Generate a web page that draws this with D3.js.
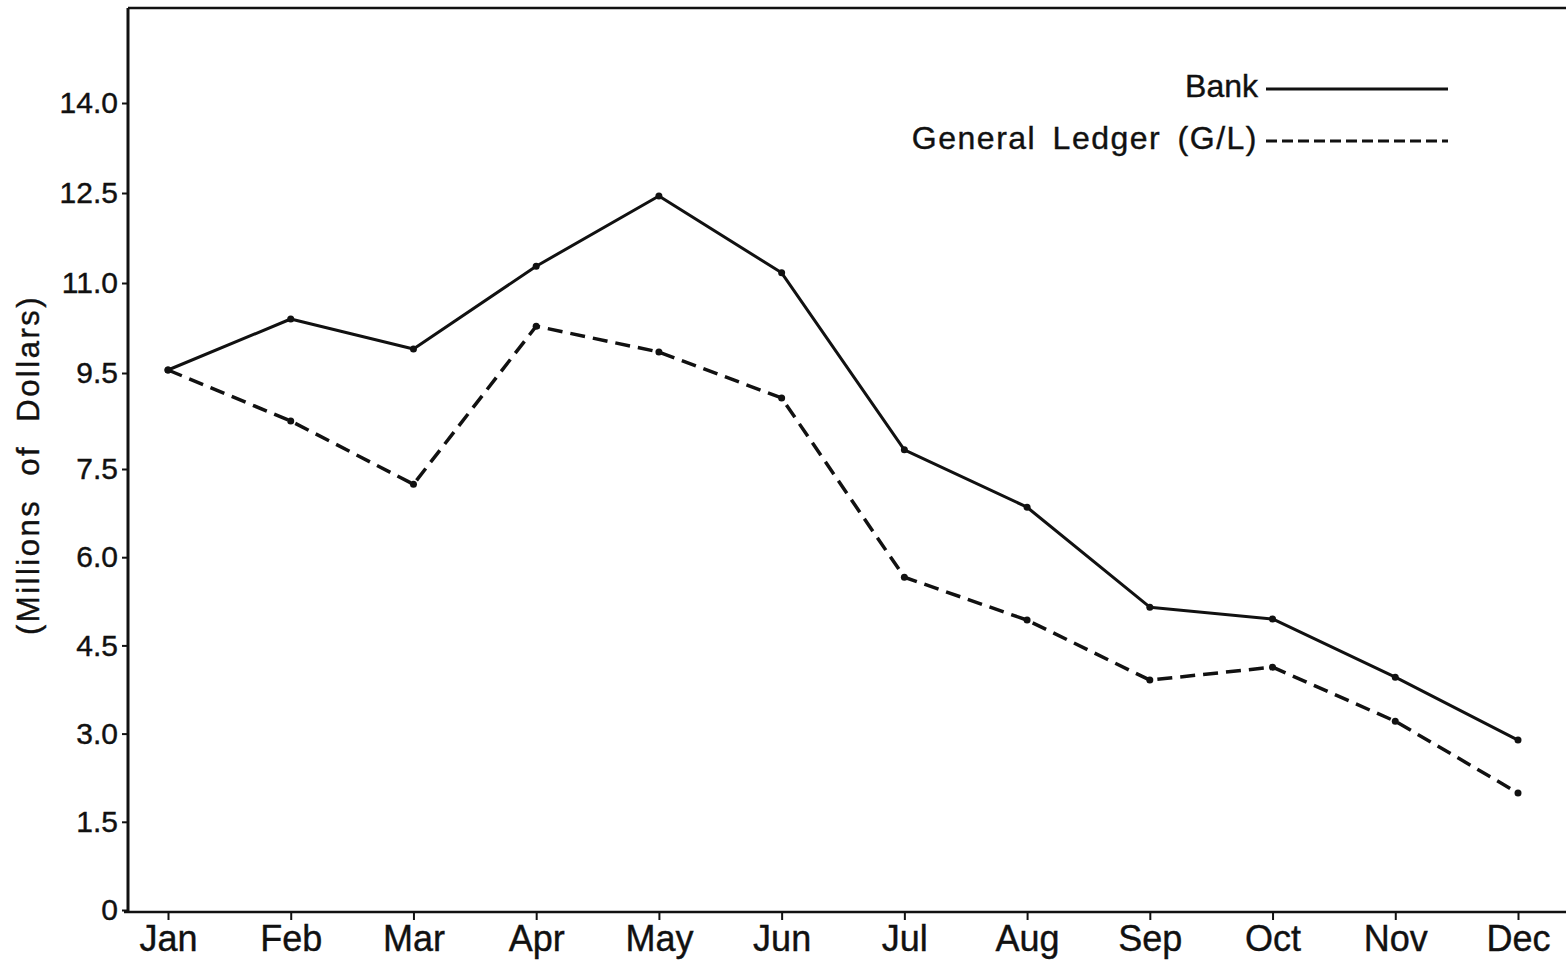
<!DOCTYPE html>
<html>
<head>
<meta charset="utf-8">
<script src="https://cdn.jsdelivr.net/npm/d3@7"></script>
<style>
  body { margin: 0; background: #fff; }
  text { font-family: 'Liberation Sans', Arial, Helvetica, sans-serif; fill: #111; stroke: #111; stroke-width: 0.4px; }
</style>
</head>
<body>
<div id="chart"></div>
<script>
// data
const months = ['Jan', 'Feb', 'Mar', 'Apr', 'May', 'Jun', 'Jul', 'Aug', 'Sep', 'Oct', 'Nov', 'Dec'];
const bankValues = [9.55, 10.4, 9.9, 11.28, 12.45, 11.17, 7.9, 6.85, 5.15, 4.95, 3.96, 2.89];
const ledgerValues = [9.55, 8.5, 7.24, 10.28, 9.85, 8.98, 5.66, 4.93, 3.91, 4.13, 3.21, 1.99];
const yTickValues = [0, 1.5, 3.0, 4.5, 6.0, 7.5, 9.5, 11.0, 12.5, 14.0];
const seriesNames = ['Bank', 'General Ledger (G/L)'];

let width = 1566;
let height = 960;
let axisX = 128;
let axisY = 912;
let frameTop = 8;

let svg = d3
  .select('#chart')
  .append('svg')
  .attr('width', width)
  .attr('height', height);

// Scales (the printed axis steps 7.5 -> 9.5 over one tick gap, so piecewise)
let xPositionScale = d3.scalePoint().domain(months).range([168, 1518]);
let yPositionScale = d3
  .scaleLinear()
  .domain([0, 7.5, 9.5, 14.0])
  .range([910, 469, 373, 103]);

let line = d3
  .line()
  .x((d) => xPositionScale(d.month))
  .y((d) => yPositionScale(d.value));

let bankData = months.map((m, i) => ({ month: m, value: bankValues[i] }));
let ledgerData = months.map((m, i) => ({ month: m, value: ledgerValues[i] }));

// Frame lines
svg
  .append('line')
  .attr('x1', axisX)
  .attr('x2', width)
  .attr('y1', frameTop)
  .attr('y2', frameTop)
  .attr('stroke', '#111')
  .attr('stroke-width', 2.5);

svg
  .append('line')
  .attr('x1', axisX)
  .attr('x2', axisX)
  .attr('y1', frameTop)
  .attr('y2', axisY)
  .attr('stroke', '#111')
  .attr('stroke-width', 3);

svg
  .append('line')
  .attr('x1', axisX - 4)
  .attr('x2', width)
  .attr('y1', axisY)
  .attr('y2', axisY)
  .attr('stroke', '#111')
  .attr('stroke-width', 2.5);

// Axes
let yAxisGenerator = d3
  .axisLeft(yPositionScale)
  .tickValues(yTickValues)
  .tickFormat((d) => (d === 0 ? '0' : d.toFixed(1)))
  .tickSize(6)
  .tickSizeOuter(0)
  .tickPadding(4);

let yAxis = svg
  .append('g')
  .attr('class', 'axis y-axis')
  .attr('transform', `translate(${axisX}, 0)`)
  .call(yAxisGenerator);

yAxis.select('.domain').remove();
yAxis.selectAll('line').attr('stroke', '#111').attr('stroke-width', 2);
yAxis
  .selectAll('text')
  .style('font-size', '30px')
  .attr('fill', '#111');

let xAxisGenerator = d3
  .axisBottom(xPositionScale)
  .tickSize(8)
  .tickSizeOuter(0)
  .tickPadding(5);

let xAxis = svg
  .append('g')
  .attr('class', 'axis x-axis')
  .attr('transform', `translate(0, ${axisY})`)
  .call(xAxisGenerator);

xAxis.select('.domain').remove();
xAxis.selectAll('line').attr('stroke', '#111').attr('stroke-width', 2);
xAxis
  .selectAll('text')
  .style('font-size', '36px')
  .attr('fill', '#111');

// Y axis title
svg
  .append('text')
  .attr('transform', 'rotate(-90)')
  .attr('x', -465)
  .attr('y', 28)
  .attr('dy', '0.35em')
  .style('text-anchor', 'middle')
  .style('font-size', '31px')
  .style('letter-spacing', '2.5px')
  .style('word-spacing', '12px')
  .text('(Millions of Dollars)');

// Lines
svg
  .append('path')
  .datum(bankData)
  .attr('fill', 'none')
  .attr('stroke', '#111')
  .attr('stroke-width', 3)
  .attr('stroke-linejoin', 'round')
  .attr('d', line);

svg
  .append('path')
  .datum(ledgerData)
  .attr('fill', 'none')
  .attr('stroke', '#111')
  .attr('stroke-width', 3.5)
  .attr('stroke-dasharray', '15,8')
  .attr('d', line);

// small dots at each point
svg
  .selectAll('.dot')
  .data(bankData.concat(ledgerData))
  .enter()
  .append('circle')
  .attr('class', 'dot')
  .attr('cx', (d) => xPositionScale(d.month))
  .attr('cy', (d) => yPositionScale(d.value))
  .attr('r', 3.5)
  .attr('fill', '#111');

// Legend
let legend = svg.append('g').attr('class', 'legend');

seriesNames.forEach((name, i) => {
  let ly = 86 + i * 52;

  legend
    .append('text')
    .attr('x', 1258)
    .attr('y', ly)
    .attr('dy', '0.35em')
    .style('text-anchor', 'end')
    .style('font-size', '32px')
    .style('letter-spacing', i === 0 ? '0px' : '1.5px')
    .style('word-spacing', '6px')
    .text(name);

  legend
    .append('line')
    .attr('x1', 1266)
    .attr('x2', 1448)
    .attr('y1', ly + 3)
    .attr('y2', ly + 3)
    .attr('stroke', '#111')
    .attr('stroke-width', 3)
    .attr('stroke-dasharray', i === 0 ? null : '11,5');
});
</script>
</body>
</html>
